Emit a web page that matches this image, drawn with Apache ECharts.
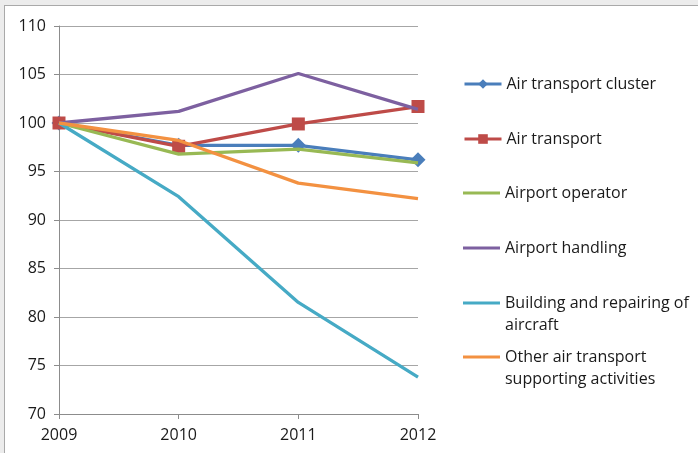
<!DOCTYPE html>
<html>
<head>
<meta charset="utf-8">
<script src="https://cdn.jsdelivr.net/npm/echarts@6/dist/echarts.min.js"></script>
<style>
  html, body { margin: 0; padding: 0; background: #ececec; width: 698px; height: 453px; overflow: hidden; }
  #frame { position: absolute; left: 4px; top: 5px; width: 710px; height: 470px; background: #fff; border: 1px solid #a9a9a9; }
  #chart { position: absolute; left: 0; top: 0; width: 698px; height: 453px; }
</style>
</head>
<body>
<div id="frame"></div>
<div id="chart"></div>
<script>
const years = ['2009', '2010', '2011', '2012'];
const seriesNames = [
  'Air transport cluster',
  'Air transport',
  'Airport operator',
  'Airport handling',
  'Building and repairing of\naircraft',
  'Other air transport\nsupporting activities'
];
const airTransportCluster = [100, 97.7, 97.7, 96.2];
const airTransport = [100, 97.6, 99.9, 101.7];
const airportOperator = [100, 96.8, 97.3, 95.9];
const airportHandling = [100, 101.2, 105.1, 101.4];
const buildingRepairing = [100, 92.4, 81.5, 73.8];
const otherSupporting = [100, 98.2, 93.8, 92.2];
const yTicks = { min: 70, max: 110, interval: 5 };

const values = [airTransportCluster, airTransport, airportOperator, airportHandling, buildingRepairing, otherSupporting];
const colors = ['#4a7ebb', '#be4b48', '#98b954', '#7d60a0', '#46aac5', '#f39141'];
const symbols = ['diamond', 'rect', 'none', 'none', 'none', 'none'];
const symbolSizes = [15, 13, 0, 0, 0, 0];
const legendTops = [73, 128, 182, 237, 292, 346];
const twoLine = [false, false, false, false, true, true];

const font = '"Open Sans", Lato, sans-serif';
const chart = echarts.init(document.getElementById('chart'), null, { renderer: 'canvas' });

// line icon drawn on the first text line of a two-line legend entry
const topLineIcon = 'path://M0,0L37,0L37,3L0,3Z M0,25L0.01,25L0.01,25.01Z';

const legends = seriesNames.map((n, i) => {
  const hasSym = symbols[i] !== 'none';
  const item = { name: n };
  if (!hasSym) item.icon = twoLine[i] ? topLineIcon : 'rect';
  return {
    orient: 'vertical',
    left: 463,
    top: legendTops[i],
    itemWidth: 37,
    itemHeight: hasSym ? 12 : (twoLine[i] ? 25 : 3),
    itemGap: 0,
    padding: 0,
    data: [item],
    lineStyle: { width: 3 },
    textStyle: { fontFamily: font, fontSize: 16, color: '#1a1a1a', lineHeight: 22 }
  };
});

chart.setOption({
  animation: false,
  color: colors,
  legend: legends,
  grid: { left: 59, right: 280, top: 26, bottom: 39 },
  xAxis: {
    type: 'category',
    data: years,
    boundaryGap: false,
    axisLine: { lineStyle: { color: '#8c8c8c', width: 1 } },
    axisTick: { show: true, length: 5, lineStyle: { color: '#8c8c8c' } },
    axisLabel: { fontFamily: font, fontSize: 16, color: '#1a1a1a', margin: 13 }
  },
  yAxis: {
    type: 'value',
    min: yTicks.min, max: yTicks.max, interval: yTicks.interval,
    axisLine: { show: true, lineStyle: { color: '#8c8c8c', width: 1 } },
    axisTick: { show: true, length: 5, lineStyle: { color: '#8c8c8c' } },
    axisLabel: { fontFamily: font, fontSize: 16, color: '#1a1a1a', margin: 13 },
    splitLine: { lineStyle: { color: '#a6a6a6', width: 1 } }
  },
  series: seriesNames.map((n, i) => ({
    name: n,
    type: 'line',
    data: values[i],
    symbol: symbols[i],
    symbolSize: symbolSizes[i],
    showSymbol: symbols[i] !== 'none',
    lineStyle: { width: 3.3, color: colors[i] },
    itemStyle: { color: colors[i] },
    z: 2 + i
  }))
});
</script>
</body>
</html>
